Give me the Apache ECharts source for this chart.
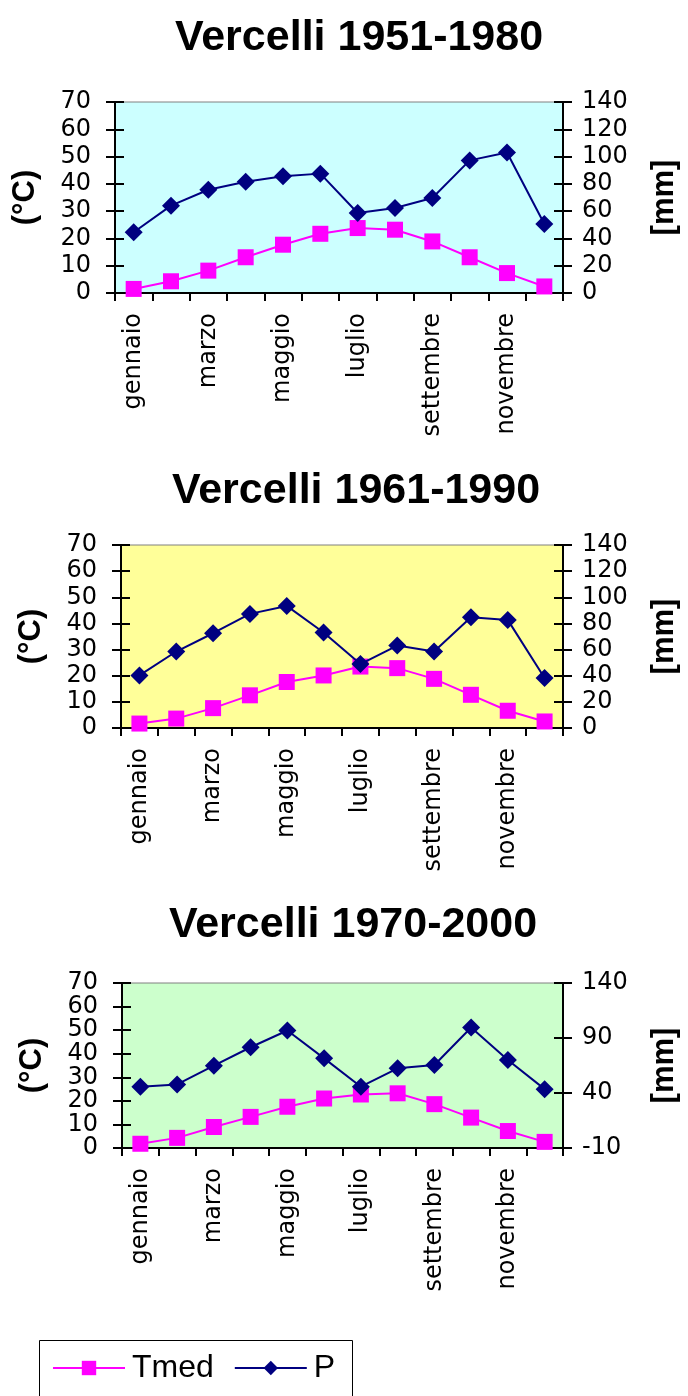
<!DOCTYPE html>
<html>
<head>
<meta charset="utf-8">
<script src="https://cdn.jsdelivr.net/npm/echarts@6/dist/echarts.min.js"></script>
<style>
html,body{margin:0;padding:0;background:#fff;}
#c{width:688px;height:1396px;}
</style>
</head>
<body>
<div id="c"></div>
<script>
const months = ['gennaio','febbraio','marzo','aprile','maggio','giugno','luglio','agosto','settembre','ottobre','novembre','dicembre'];
const titles = ['Vercelli 1951-1980','Vercelli 1961-1990','Vercelli 1970-2000'];
const tmed1951 = [1.5, 4.3, 8.2, 13.1, 17.7, 21.7, 23.8, 23.2, 18.9, 13.1, 7.3, 2.4];
const p1951    = [44.5, 64, 75.7, 81.6, 85.5, 87.5, 58.6, 62.3, 69.6, 97.2, 103, 50.6];
const tmed1961 = [1.7, 3.6, 7.6, 12.5, 17.6, 20.1, 23.5, 22.9, 18.8, 12.7, 6.6, 2.5];
const p1961    = [40.2, 58.5, 72.5, 87.3, 93.4, 73.1, 48.9, 63.1, 58.5, 84.8, 82.7, 38.2];
const tmed1970 = [1.8, 4.3, 8.9, 13.2, 17.5, 21.0, 22.7, 23.2, 18.6, 12.9, 7.2, 2.6];
const p1970    = [45.7, 47.8, 64.8, 81.6, 96.8, 71.5, 45.7, 62.4, 65.4, 99.5, 70, 43.5];
const tempAxis = {min: 0, max: 70, interval: 10};
const precAxes = [{min: 0, max: 140, interval: 20}, {min: 0, max: 140, interval: 20}, {min: -10, max: 140, interval: 50}];
const tmedData = [tmed1951, tmed1961, tmed1970];
const pData = [p1951, p1961, p1970];

const grids = [
  {left: 115, top: 102, width: 452, height: 191, bg: '#CCFFFF', titleTop: 12, titleX: 354},
  {left: 121, top: 545, width: 450, height: 183, bg: '#FFFF99', titleTop: 465, titleX: 351},
  {left: 122, top: 983, width: 445, height: 165, bg: '#CCFFCC', titleTop: 899, titleX: 348}
];
const tickFont = {fontFamily: 'DejaVu Sans', fontSize: 24, color: '#000'};
const nameFont = {fontFamily: 'Liberation Sans', fontSize: 31, fontWeight: 'bold', color: '#000'};
// split temperature labels over two overlaid axes so none get hidden by overlap checks
const evenFmt = v => (Math.round(v / 10) % 2 === 0 ? String(v) : '');
const oddFmt = v => (Math.round(v / 10) % 2 === 1 ? String(v) : '');

const option = {
  animation: false,
  backgroundColor: '#fff',
  title: [], grid: [], xAxis: [], yAxis: [], series: [],
  legend: {
    data: ['Tmed', 'P'],
    left: 52, top: 1352, padding: 0,
    itemWidth: 72, itemHeight: 18, itemGap: 20,
    textStyle: {fontFamily: 'Liberation Sans', fontSize: 32, color: '#000', padding: [0,0,0,2]},
    selectedMode: false
  },
  graphic: [{type: 'rect', shape: {x: 39.5, y: 1340.5, width: 313, height: 80}, style: {fill: null, stroke: '#000', lineWidth: 1}}]
};

grids.forEach((g, i) => {
  option.title.push({text: titles[i], left: g.titleX, textAlign: 'center', top: g.titleTop,
    textStyle: {fontFamily: 'Liberation Sans', fontSize: 43, fontWeight: 'bold', color: '#000'}});
  option.grid.push({left: g.left, top: g.top, width: g.width, height: g.height, show: true,
    backgroundColor: g.bg, borderColor: '#808080', borderWidth: 1, containLabel: false});
  option.xAxis.push({type: 'category', gridIndex: i, data: months, boundaryGap: true,
    axisLine: {lineStyle: {color: '#000', width: 2}},
    axisTick: {show: true, length: 8, interval: 0, lineStyle: {color: '#000', width: 2}},
    axisLabel: Object.assign({rotate: 90, interval: 1, margin: 20}, tickFont)});
  const base = 4 * i;
  option.yAxis.push(Object.assign({type: 'value', gridIndex: i, position: 'left',
    name: '(°C)', nameLocation: 'middle', nameGap: 74, nameRotate: 90, nameTextStyle: nameFont,
    splitLine: {show: false},
    axisLine: {show: true, lineStyle: {color: '#000', width: 2}},
    axisTick: {show: true, length: 9, lineStyle: {color: '#000', width: 2}},
    axisLabel: Object.assign({margin: 24, formatter: evenFmt, showMinLabel: true, showMaxLabel: true}, tickFont)}, tempAxis));
  option.yAxis.push(Object.assign({type: 'value', gridIndex: i, position: 'right',
    name: '[mm]', nameLocation: 'middle', nameGap: 86, nameRotate: 90, nameTextStyle: nameFont,
    splitLine: {show: false},
    axisLine: {show: true, lineStyle: {color: '#000', width: 2}},
    axisTick: {show: true, length: 9, lineStyle: {color: '#000', width: 2}},
    axisLabel: Object.assign({margin: 19, showMinLabel: true, showMaxLabel: true}, tickFont)}, precAxes[i]));
  option.yAxis.push(Object.assign({type: 'value', gridIndex: i, position: 'left',
    splitLine: {show: false}, axisLine: {show: false},
    axisLabel: Object.assign({margin: 24, formatter: oddFmt, showMinLabel: true, showMaxLabel: true}, tickFont),
    axisTick: {show: true, inside: true, length: 9, lineStyle: {color: '#000', width: 2}}}, tempAxis));
  option.yAxis.push(Object.assign({type: 'value', gridIndex: i, position: 'right',
    splitLine: {show: false}, axisLine: {show: false}, axisLabel: {show: false},
    axisTick: {show: true, inside: true, length: 9, lineStyle: {color: '#000', width: 2}}}, precAxes[i]));
  option.series.push({name: 'Tmed', type: 'line', xAxisIndex: i, yAxisIndex: base,
    data: tmedData[i], symbol: 'rect', symbolSize: 16,
    lineStyle: {color: '#FF00FF', width: 2}, itemStyle: {color: '#FF00FF'}, z: 3});
  option.series.push({name: 'P', type: 'line', xAxisIndex: i, yAxisIndex: base + 1,
    data: pData[i], symbol: 'diamond', symbolSize: 18,
    lineStyle: {color: '#000080', width: 2}, itemStyle: {color: '#000080'}, z: 4});
});

const chart = echarts.init(document.getElementById('c'), null, {renderer: 'canvas'});
chart.setOption(option);
</script>
</body>
</html>
